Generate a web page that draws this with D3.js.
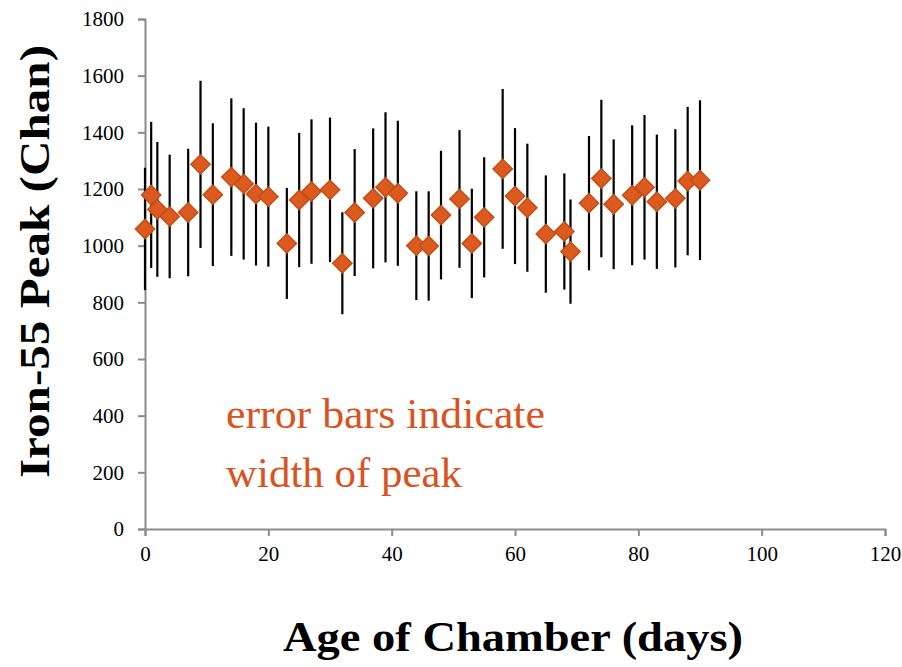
<!DOCTYPE html>
<html>
<head>
<meta charset="utf-8">
<script src="https://d3js.org/d3.v7.min.js"></script>
<style>
  body { margin: 0; background: #fff; }
  svg text { font-family: "Liberation Serif", "DejaVu Serif", serif; }
</style>
</head>
<body>
<div id="viz"></div>
<script>
// age of chamber (days)
const days = [0, 1, 2, 4, 7, 9, 11, 14, 16, 18, 20, 23, 25, 27, 30, 32, 34, 37, 39, 41,
  44, 46, 48, 51, 53, 55, 58, 60, 62, 65, 68, 69, 72, 74, 76, 79, 81, 83, 86, 88, 90];
// Fe-55 peak position (channel)
const peak = [1059, 1179, 1128, 1103, 1117, 1287, 1180, 1242, 1218, 1182, 1173, 1008, 1161, 1191,
  1197, 938, 1117, 1167, 1206, 1185, 1000, 999, 1108, 1165, 1008, 1100, 1271, 1175, 1134, 1041,
  1050, 979, 1150, 1237, 1146, 1178, 1206, 1155, 1167, 1228, 1231];
// half width of the peak (error bar)
const halfWidth = [216, 258, 238, 218, 225, 295, 252, 278, 267, 252, 247, 196, 237, 255,
  255, 180, 224, 247, 265, 256, 192, 193, 227, 243, 193, 212, 282, 240, 226, 207,
  205, 184, 237, 278, 229, 247, 255, 237, 244, 262, 282];
const xTicks = [0, 20, 40, 60, 80, 100, 120];
const yTicks = [0, 200, 400, 600, 800, 1000, 1200, 1400, 1600, 1800];

const W = 902, H = 667;
const margin = {top: 19, right: 17, bottom: 138, left: 145};
const width = W - margin.left - margin.right,
      height = H - margin.top - margin.bottom;

const svg = d3.select("#viz").append("svg")
    .attr("width", W)
    .attr("height", H);
const g = svg.append("g")
    .attr("transform", `translate(${margin.left},${margin.top})`);

const x = d3.scaleLinear().domain([0, 120]).range([0, width]);
const y = d3.scaleLinear().domain([0, 1800]).range([height, 0]);

// axes
const yAxis = g.append("g")
    .call(d3.axisLeft(y).tickValues(yTicks).tickFormat(d3.format("d")).tickSize(7).tickPadding(14));
const xAxis = g.append("g")
    .attr("transform", `translate(0,${height})`)
    .call(d3.axisBottom(x).tickValues(xTicks).tickFormat(d3.format("d")).tickSize(7).tickPadding(10));
[xAxis, yAxis].forEach(a => {
  a.select(".domain").attr("stroke", "#8c8c8c").attr("stroke-width", 2);
  a.selectAll(".tick line").attr("stroke", "#8c8c8c").attr("stroke-width", 2);
  a.selectAll(".tick text")
    .attr("fill", "#000")
    .style("font-size", "21px")
    .style("font-family", "'Liberation Serif', serif");
});

const data = days.map((d, i) => ({day: d, value: peak[i], err: halfWidth[i]}));

// error bars
g.selectAll(".err")
  .data(data)
  .enter().append("line")
    .attr("class", "err")
    .attr("x1", d => x(d.day))
    .attr("x2", d => x(d.day))
    .attr("y1", d => y(d.value + d.err))
    .attr("y2", d => y(d.value - d.err))
    .attr("stroke", "#000")
    .attr("stroke-width", 2.2);

// diamond markers
const diamond = d3.symbol().type(d3.symbolSquare).size(185);
g.selectAll(".pt")
  .data(data)
  .enter().append("path")
    .attr("class", "pt")
    .attr("d", diamond)
    .attr("transform", d => `translate(${x(d.day)},${y(d.value)}) rotate(45)`)
    .attr("fill", "#dd5a1e")
    .attr("stroke", "#c24e18")
    .attr("stroke-width", 1.5);

// axis titles
svg.append("text")
    .attr("x", 283)
    .attr("y", 651)
    .attr("textLength", 460)
    .attr("lengthAdjust", "spacingAndGlyphs")
    .style("font-size", "43px")
    .style("font-weight", "bold")
    .text("Age of Chamber (days)");

svg.append("text")
    .attr("transform", "translate(49,478) rotate(-90)")
    .attr("textLength", 433)
    .attr("lengthAdjust", "spacingAndGlyphs")
    .style("font-size", "43px")
    .style("font-weight", "bold")
    .text("Iron-55 Peak (Chan)");

// annotation
const note = svg.append("text")
    .attr("fill", "#d9531e")
    .style("font-size", "42px");
note.append("tspan").attr("x", 226).attr("y", 428)
    .attr("textLength", 319).attr("lengthAdjust", "spacingAndGlyphs")
    .text("error bars indicate");
note.append("tspan").attr("x", 226).attr("y", 487)
    .attr("textLength", 236).attr("lengthAdjust", "spacingAndGlyphs")
    .text("width of peak");
</script>
</body>
</html>
